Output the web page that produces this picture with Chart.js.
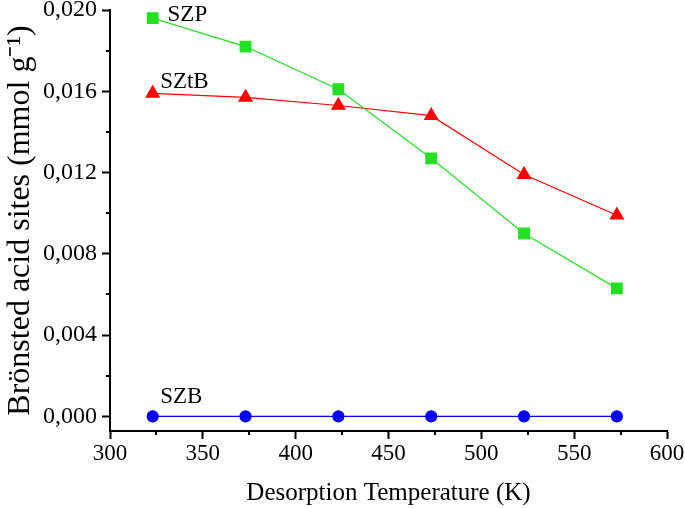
<!DOCTYPE html>
<html>
<head>
<meta charset="utf-8">
<title>Brönsted acid sites</title>
<style>
body { margin: 0; padding: 0; background: #fff; }
#wrap { width: 685px; height: 508px; }
</style>
<script src="https://cdn.jsdelivr.net/npm/chart.js@4.4.0/dist/chart.umd.min.js"></script>
</head>
<body>
<div id="wrap"><canvas id="chart"></canvas></div>
<script>
// desorption temperature (K)
var temps = [323, 373, 423, 473, 523, 573];
// Brönsted acid sites (mmol g-1)
var szp = [0.0196, 0.0182, 0.0161, 0.0127, 0.0090, 0.0063];
var sztb = [0.0159, 0.0157, 0.0153, 0.0148, 0.0119, 0.0099];
var szb = [0, 0, 0, 0, 0, 0];
var yTicks = [0, 0.004, 0.008, 0.012, 0.016, 0.020];
var xMinor = [325, 375, 425, 475, 525, 575];
var yMinor = [0.002, 0.006, 0.010, 0.014, 0.018];
// series labels: [text, x, y]
var seriesLabels = [['SZP', 331, 0.01975], ['SZtB', 327, 0.01646], ['SZB', 327, 0.00098]];

function pts(ys) {
	return temps.map(function (t, i) { return { x: t, y: ys[i] }; });
}

var font = 'Liberation Serif';

var extras = {
	id: 'extras',
	afterDraw: function (chart) {
		var ctx = chart.ctx;
		var xs = chart.scales.x, ys = chart.scales.y;
		ctx.save();
		ctx.strokeStyle = '#000';
		ctx.lineWidth = 2;
		ctx.beginPath();
		xMinor.forEach(function (v) {
			var px = Math.round(xs.getPixelForValue(v));
			ctx.moveTo(px, xs.top);
			ctx.lineTo(px, xs.top + 4);
		});
		yMinor.forEach(function (v) {
			var py = Math.round(ys.getPixelForValue(v));
			ctx.moveTo(ys.right, py);
			ctx.lineTo(ys.right - 4, py);
		});
		ctx.stroke();
		ctx.fillStyle = '#000';
		ctx.font = '23px "' + font + '"';
		ctx.textBaseline = 'middle';
		ctx.textAlign = 'left';
		seriesLabels.forEach(function (l) {
			ctx.fillText(l[0], xs.getPixelForValue(l[1]), ys.getPixelForValue(l[2]));
		});
		ctx.restore();
	}
};

new Chart(document.getElementById('chart'), {
	type: 'line',
	data: {
		datasets: [{
			label: 'SZP',
			data: pts(szp),
			borderColor: '#22e022',
			backgroundColor: '#22e022',
			borderWidth: 1.2,
			pointStyle: 'rect',
			pointRadius: 7.5,
			pointHoverRadius: 7.5
		}, {
			label: 'SZtB',
			data: pts(sztb),
			borderColor: '#ff0000',
			backgroundColor: '#ff0000',
			borderWidth: 1.2,
			pointStyle: 'triangle',
			pointRadius: 7.5,
			pointHoverRadius: 7.5
		}, {
			label: 'SZB',
			data: pts(szb),
			borderColor: '#0000ff',
			backgroundColor: '#0000ff',
			borderWidth: 1.2,
			pointStyle: 'circle',
			pointRadius: 5.5,
			pointHoverRadius: 5.5
		}]
	},
	options: {
		responsive: true,
		maintainAspectRatio: false,
		animation: false,
		layout: { padding: { top: 10, right: 18, left: 0, bottom: 0 } },
		plugins: {
			legend: { display: false },
			tooltip: { enabled: false }
		},
		scales: {
			x: {
				type: 'linear',
				min: 300,
				max: 600,
				afterFit: function (s) {
					s.height = 77;
					s.paddingLeft = 0; s.paddingRight = 0;
				},
				border: { display: true, color: '#000', width: 2 },
				grid: { drawOnChartArea: false, drawTicks: true, tickLength: 8, tickColor: '#000', tickWidth: 2 },
				ticks: { stepSize: 50, color: '#000', padding: 1, font: { family: font, size: 23 } },
				title: {
					display: true,
					text: 'Desorption Temperature (K)',
					color: '#000',
					font: { family: font, size: 25 },
					padding: { top: 0, bottom: 0 }
				}
			},
			y: {
				min: -0.00072,
				max: 0.020,
				afterFit: function (s) {
					s.width = 110;
					s.paddingTop = 0; s.paddingBottom = 0;
				},
				afterBuildTicks: function (s) {
					s.ticks = yTicks.map(function (v) { return { value: v }; });
				},
				border: { display: true, color: '#000', width: 2 },
				grid: { drawOnChartArea: false, drawTicks: true, tickLength: 8, tickColor: '#000', tickWidth: 2 },
				ticks: {
					color: '#000',
					padding: 5,
					font: { family: font, size: 24 },
					callback: function (v) { return Number(v).toFixed(3).replace('.', ','); }
				},
				title: {
					display: true,
					text: 'Brönsted acid sites (mmol g⁻¹)',
					color: '#000',
					font: { family: font, size: 32 },
					padding: { top: 1, bottom: 0 }
				}
			}
		}
	},
	plugins: [extras]
});
</script>
</body>
</html>
